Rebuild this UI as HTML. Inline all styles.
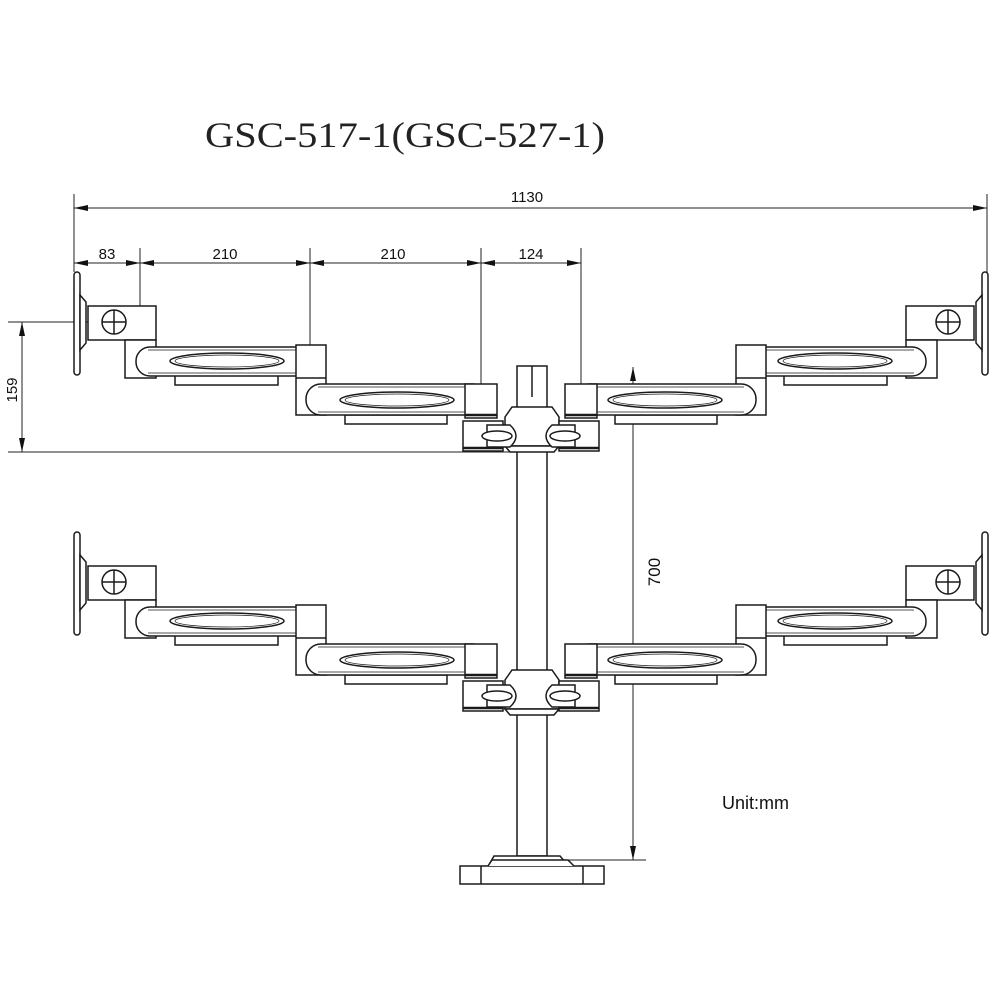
<!DOCTYPE html>
<html><head><meta charset="utf-8"><style>
html,body{margin:0;padding:0;background:#fff;}
svg{display:block;}
text{font-family:"Liberation Sans",sans-serif;fill:#111;}
</style></head><body>
<svg width="1000" height="1000" viewBox="0 0 1000 1000" xmlns="http://www.w3.org/2000/svg">
<defs>
<marker id="ar" viewBox="0 0 14 6" refX="14" refY="3" markerWidth="14" markerHeight="6" orient="auto-start-reverse" markerUnits="userSpaceOnUse"><path d="M0,0 L14,3 L0,6 z" fill="#111"/></marker>
<g id="arm" fill="#fff" stroke="#1a1a1a" stroke-width="1.5">
  <rect x="74" y="272" width="6" height="103" rx="3"/>
  <path d="M80,295 L86,302 L86,343 L80,350 z"/>
  <rect x="88" y="306" width="68" height="34"/>
  <circle cx="114" cy="322" r="12"/>
  <line x1="102" y1="322" x2="126" y2="322"/>
  <line x1="114" y1="310" x2="114" y2="334"/>
  <rect x="125" y="340" width="31" height="38"/>
  <rect x="175" y="375" width="103" height="10"/>
  <rect x="136" y="347" width="182" height="29" rx="14"/>
  <line x1="148" y1="350" x2="306" y2="350" stroke-width="0.8"/>
  <line x1="148" y1="373" x2="306" y2="373" stroke-width="0.8"/>
  <ellipse cx="227" cy="361" rx="57" ry="8"/>
  <ellipse cx="227" cy="361" rx="52" ry="6" stroke-width="0.7"/>
  <rect x="296" y="345" width="30" height="70"/>
  <line x1="296" y1="378" x2="326" y2="378"/>
  <rect x="345" y="415" width="102" height="9"/>
  <rect x="306" y="384" width="182" height="31" rx="15"/>
  <line x1="318" y1="387" x2="476" y2="387" stroke-width="0.8"/>
  <line x1="318" y1="412" x2="476" y2="412" stroke-width="0.8"/>
  <ellipse cx="397" cy="400" rx="57" ry="8"/>
  <ellipse cx="397" cy="400" rx="52" ry="6" stroke-width="0.7"/>
  <rect x="465" y="384" width="32" height="34"/>
  <line x1="465" y1="415" x2="497" y2="415" stroke-width="2.5"/>
  <rect x="463" y="421" width="40" height="30"/>
  <line x1="463" y1="448" x2="503" y2="448" stroke-width="2.5"/>
  <path d="M487,425 L510,425 Q522,436 510,447 L487,447 z"/>
  <ellipse cx="497" cy="436" rx="15" ry="5"/>
</g>
</defs>

<text x="205" y="147" style="font-family:'Liberation Serif',serif;font-size:36px;fill:#222" textLength="400" lengthAdjust="spacingAndGlyphs">GSC-517-1(GSC-527-1)</text>

<g stroke="#222" stroke-width="1" fill="none">
  <line x1="74" y1="194" x2="74" y2="272"/>
  <line x1="987" y1="194" x2="987" y2="290"/>
  <line x1="74" y1="208" x2="987" y2="208" marker-start="url(#ar)" marker-end="url(#ar)"/>
  <line x1="140" y1="248" x2="140" y2="310"/>
  <line x1="310" y1="248" x2="310" y2="348"/>
  <line x1="481" y1="248" x2="481" y2="386"/>
  <line x1="581" y1="248" x2="581" y2="386"/>
  <line x1="74" y1="263" x2="140" y2="263" marker-start="url(#ar)" marker-end="url(#ar)"/>
  <line x1="140" y1="263" x2="310" y2="263" marker-start="url(#ar)" marker-end="url(#ar)"/>
  <line x1="310" y1="263" x2="481" y2="263" marker-start="url(#ar)" marker-end="url(#ar)"/>
  <line x1="481" y1="263" x2="581" y2="263" marker-start="url(#ar)" marker-end="url(#ar)"/>
  <line x1="8" y1="322" x2="100" y2="322"/>
  <line x1="8" y1="452" x2="510" y2="452"/>
  <line x1="22" y1="322" x2="22" y2="452" marker-start="url(#ar)" marker-end="url(#ar)"/>
  <line x1="633" y1="367" x2="633" y2="860" marker-start="url(#ar)" marker-end="url(#ar)"/>
  <line x1="560" y1="860" x2="646" y2="860"/>
</g>
<text x="107" y="259" font-size="15" text-anchor="middle">83</text>
<text x="225" y="259" font-size="15" text-anchor="middle">210</text>
<text x="393" y="259" font-size="15" text-anchor="middle">210</text>
<text x="531" y="259" font-size="15" text-anchor="middle">124</text>
<text x="527" y="202" font-size="15" text-anchor="middle">1130</text>
<text transform="translate(17,390) rotate(-90)" font-size="15" text-anchor="middle">159</text>
<text transform="translate(660,572) rotate(-90)" font-size="17" text-anchor="middle">700</text>
<text x="722" y="809" font-size="18">Unit:mm</text>

<g fill="#fff" stroke="#1a1a1a" stroke-width="1.5">
  <rect x="517" y="366" width="30" height="490"/>
  <line x1="532" y1="366" x2="532" y2="397"/>
  <path d="M505,417 L512,407 L552,407 L559,417 L559,446 L505,446 z"/>
  <path d="M505,446 L559,446 L554,452 L510,452 z"/>
  <path d="M505,680 L512,670 L552,670 L559,680 L559,709 L505,709 z"/>
  <path d="M505,709 L559,709 L554,715 L510,715 z"/>
  <path d="M490,863 L494,856 L560,856 L566,863 z"/>
  <rect x="460" y="866" width="144" height="18"/>
  <line x1="481" y1="866" x2="481" y2="884"/>
  <line x1="583" y1="866" x2="583" y2="884"/>
  <path d="M488,866 L492,860 L568,860 L574,866"/>
</g>

<use href="#arm"/>
<use href="#arm" transform="translate(1062,0) scale(-1,1)"/>
<use href="#arm" transform="translate(0,260)"/>
<use href="#arm" transform="translate(1062,260) scale(-1,1)"/>
</svg>
</body></html>
